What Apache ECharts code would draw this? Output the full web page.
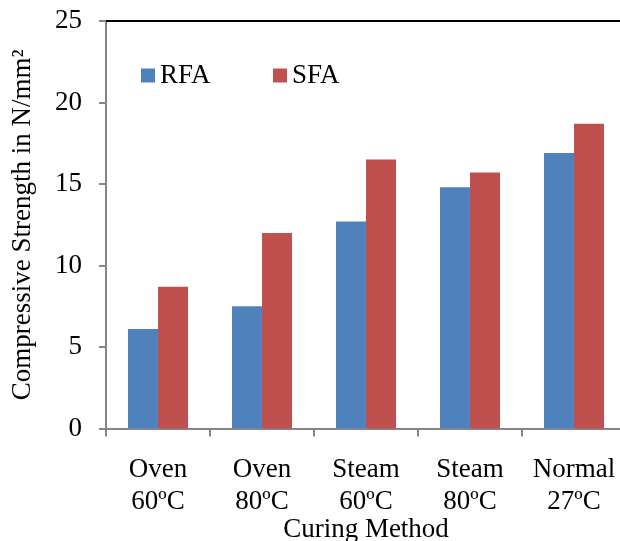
<!DOCTYPE html>
<html>
<head>
<meta charset="utf-8">
<script src="https://cdn.jsdelivr.net/npm/echarts@6/dist/echarts.min.js"></script>
<style>
  html, body { margin: 0; padding: 0; background: #ffffff; }
  #chart { width: 620px; height: 541px; }
</style>
</head>
<body>
<div id="chart"></div>
<script>
// Curing methods along the x axis
const categories = ['Oven\n60ºC', 'Oven\n80ºC', 'Steam\n60ºC', 'Steam\n80ºC', 'Normal\n27ºC'];
// Compressive strength (N/mm²) per fly ash type
const rfaValues = [6.1, 7.5, 12.7, 14.8, 16.9];
const sfaValues = [8.7, 12.0, 16.5, 15.7, 18.7];
const yTicks = [0, 5, 10, 15, 20, 25];

const FONT = '"Liberation Serif", "Times New Roman", serif';
const FS = 27;
const AXIS_GREY = '#868686';

const chart = echarts.init(document.getElementById('chart'), null, { renderer: 'canvas' });

const legendText = { fontFamily: FONT, fontSize: FS, color: '#000' };

chart.setOption({
  backgroundColor: '#ffffff',
  animation: false,
  textStyle: { fontFamily: FONT, color: '#000' },
  // the plot runs a little past the right edge of the canvas
  grid: { left: 106, top: 21, width: 520, height: 407.5, containLabel: false, outerBoundsMode: 'none' },
  legend: [
    { data: ['RFA'], left: 136, top: 57, itemWidth: 14, itemHeight: 14, itemGap: 6, icon: 'rect', textStyle: legendText },
    { data: ['SFA'], left: 268, top: 57, itemWidth: 14, itemHeight: 14, itemGap: 6, icon: 'rect', textStyle: legendText }
  ],
  xAxis: [
    {
      type: 'category',
      data: categories,
      name: 'Curing Method',
      nameLocation: 'middle',
      nameGap: 88,
      nameMoveOverlap: false,
      nameTextStyle: { fontFamily: FONT, fontSize: FS, color: '#000', lineHeight: 27 },
      axisLine: { lineStyle: { color: AXIS_GREY, width: 2 } },
      axisTick: { show: true, length: 8, lineStyle: { color: AXIS_GREY, width: 2 } },
      axisLabel: { fontFamily: FONT, fontSize: FS, color: '#000', lineHeight: 32, margin: 25.5, interval: 0 }
    },
    {
      // plain black border along the top of the plot
      type: 'category',
      position: 'top',
      data: categories,
      axisLine: { show: true, lineStyle: { color: '#000', width: 2 } },
      axisTick: { show: false },
      axisLabel: { show: false }
    }
  ],
  yAxis: {
    type: 'value',
    min: yTicks[0],
    max: yTicks[yTicks.length - 1],
    interval: 5,
    name: 'Compressive Strength in N/mm²',
    nameLocation: 'middle',
    nameGap: 70,
    nameMoveOverlap: false,
    nameTextStyle: { fontFamily: FONT, fontSize: FS, color: '#000' },
    axisLine: { show: true, lineStyle: { color: AXIS_GREY, width: 2 } },
    axisTick: { show: true, length: 7, lineStyle: { color: AXIS_GREY, width: 2 } },
    axisLabel: { fontFamily: FONT, fontSize: FS, color: '#000', margin: 24 },
    splitLine: { show: false }
  },
  series: [
    { name: 'RFA', type: 'bar', data: rfaValues, barWidth: 30, barGap: '0%', itemStyle: { color: '#4F81BD' } },
    { name: 'SFA', type: 'bar', data: sfaValues, barWidth: 30, barGap: '0%', itemStyle: { color: '#C0504D' } }
  ]
});
</script>
</body>
</html>
